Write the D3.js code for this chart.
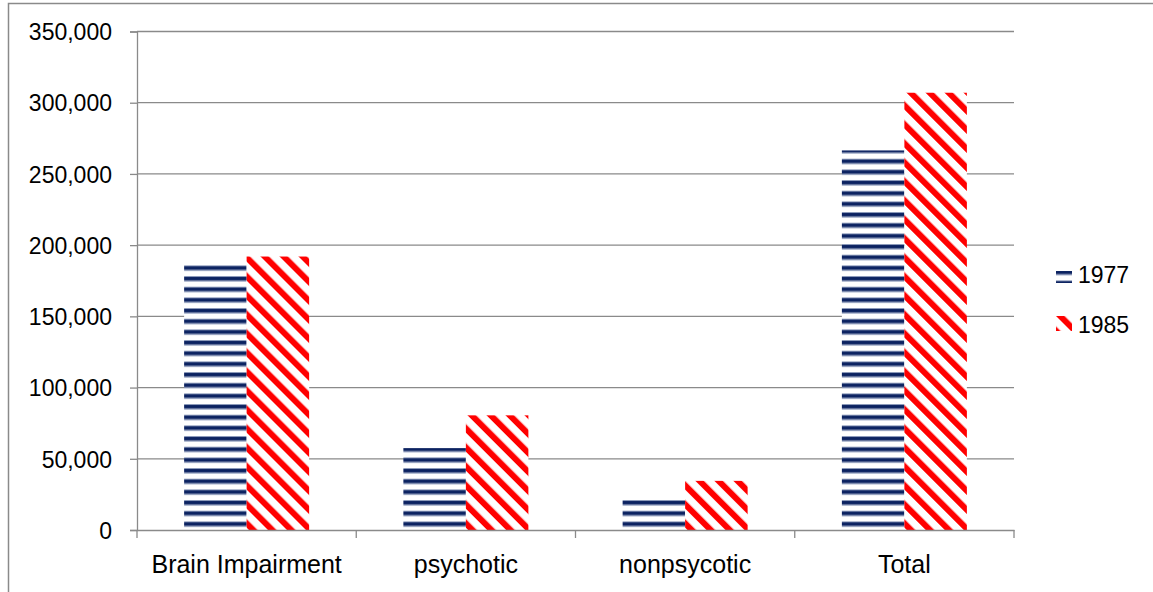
<!DOCTYPE html>
<html>
<head>
<meta charset="utf-8">
<script src="https://cdn.jsdelivr.net/npm/d3@7"></script>
<style>
  html, body { margin: 0; padding: 0; background: #fff; }
  svg { display: block; }
  text { font-family: "Liberation Sans", Arial, sans-serif; fill: #000; }
</style>
</head>
<body>
<svg id="chart" width="1153" height="592"></svg>
<script>
// Patients by diagnosis group, 1977 vs 1985
const categories = ["Brain Impairment", "psychotic", "nonpsycotic", "Total"];
const seriesNames = ["1977", "1985"];
const values1977 = [187000, 57500, 22000, 266500];
const values1985 = [192000, 80500, 34500, 307000];
const yTicks = [0, 50000, 100000, 150000, 200000, 250000, 300000, 350000];

const seriesValues = [values1977, values1985];
const rows = categories.map((c, i) => ({
  category: c,
  bars: seriesNames.map((s, j) => ({ series: s, value: seriesValues[j][i] }))
}));

const svg = d3.select("#chart");
const plot = { left: 137, right: 1014, top: 31.5, bottom: 530 };
const gridColor = "#8a8a8a";

// Pattern fills
const defs = svg.append("defs");
const stripeH = 10.667;
const blue = defs.append("pattern")
  .attr("id", "hstripe")
  .attr("patternUnits", "userSpaceOnUse")
  .attr("x", 0).attr("y", 9.33)
  .attr("width", 10).attr("height", stripeH);
blue.append("rect").attr("width", 10).attr("height", stripeH).attr("fill", "#fff");
blue.append("rect").attr("y", 0).attr("width", 10).attr("height", 1).attr("fill", "#8d9bbb");
blue.append("rect").attr("y", 1).attr("width", 10).attr("height", 3.6).attr("fill", "#0b2261");
blue.append("rect").attr("y", 4.6).attr("width", 10).attr("height", 1).attr("fill", "#8d9bbb");

const diagP = 19 / Math.SQRT2;
const red = defs.append("pattern")
  .attr("id", "dstripe")
  .attr("patternUnits", "userSpaceOnUse")
  .attr("width", diagP).attr("height", 20)
  .attr("patternTransform", "rotate(-45)");
red.append("rect").attr("width", diagP).attr("height", 20).attr("fill", "#fff");
red.append("rect").attr("x", 0).attr("width", diagP * 0.45).attr("height", 20).attr("fill", "#ff0000");

const fills = { "1977": "url(#hstripe)", "1985": "url(#dstripe)" };

// Outer frame
svg.append("rect")
  .attr("x", 8.5).attr("y", 3.5)
  .attr("width", 2000).attr("height", 2000)
  .attr("fill", "none").attr("stroke", "#8a8a8a").attr("stroke-width", 1.5);

// Scales
const x0 = d3.scaleBand().domain(categories).range([plot.left, plot.right]).padding(0);
const x1 = d3.scaleBand().domain(seriesNames).range([0, x0.bandwidth()])
  .paddingInner(0).paddingOuter(0.754);
const y = d3.scaleLinear().domain([0, 350000]).range([plot.bottom, plot.top]);

// Gridlines
svg.append("g").selectAll("line").data(yTicks.filter(t => t > 0)).join("line")
  .attr("x1", plot.left).attr("x2", plot.right)
  .attr("y1", d => y(d)).attr("y2", d => y(d))
  .attr("stroke", gridColor).attr("stroke-width", 1.3);

// Bars
const groups = svg.append("g").selectAll("g").data(rows).join("g")
  .attr("transform", d => `translate(${x0(d.category)},0)`);
groups.selectAll("rect").data(d => d.bars).join("rect")
  .attr("x", d => x1(d.series))
  .attr("width", x1.bandwidth())
  .attr("y", d => y(d.value))
  .attr("height", d => y(0) - y(d.value))
  .attr("fill", d => fills[d.series]);

// Y axis
const yAxis = svg.append("g")
  .attr("transform", `translate(${plot.left},0)`)
  .call(d3.axisLeft(y).tickValues(yTicks).tickFormat(d3.format(",")).tickSize(7).tickPadding(18));
yAxis.select(".domain").attr("stroke", gridColor).attr("stroke-width", 1.3);
yAxis.selectAll(".tick line").attr("stroke", gridColor).attr("stroke-width", 1.3);
yAxis.selectAll(".tick text").attr("font-size", 23).attr("dy", "0.36em")
  .style("font-family", "'Liberation Sans', Arial, sans-serif").attr("fill", "#000");

// X axis
const xAxis = svg.append("g")
  .attr("transform", `translate(0,${plot.bottom})`)
  .call(d3.axisBottom(x0).tickSize(0).tickPadding(0));
xAxis.select(".domain").attr("stroke", gridColor).attr("stroke-width", 1.3);
xAxis.selectAll(".tick text").attr("font-size", 25).attr("y", 43).attr("dy", 0)
  .style("font-family", "'Liberation Sans', Arial, sans-serif").attr("fill", "#000");
// Category separator ticks
const sepTicks = categories.map(c => x0(c)).concat([plot.right]);
svg.append("g").selectAll("line").data(sepTicks).join("line")
  .attr("x1", d => d).attr("x2", d => d)
  .attr("y1", plot.bottom).attr("y2", plot.bottom + 8)
  .attr("stroke", gridColor).attr("stroke-width", 1.3);

// Legend
const legend = svg.append("g").selectAll("g").data(seriesNames).join("g")
  .attr("transform", (d, i) => `translate(1056,${i === 0 ? 271 : 316})`);
legend.append("rect")
  .attr("width", 16).attr("height", (d, i) => i === 0 ? 12 : 15)
  .attr("fill", d => fills[d]);
legend.append("text")
  .attr("x", 22).attr("y", (d, i) => i === 0 ? 12 : 17)
  .attr("font-size", 23)
  .text(d => d);
</script>
</body>
</html>
